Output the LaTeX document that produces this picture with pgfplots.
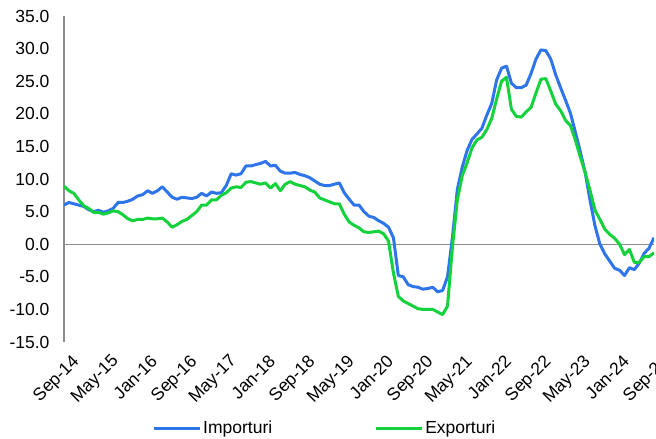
\documentclass[border=0pt]{standalone}
\usepackage{fontspec}
\setmainfont{Liberation Sans}
\usepackage{pgfplots}
\pgfplotsset{compat=1.18}
\definecolor{impblue}{RGB}{46,117,235}
\definecolor{expgreen}{RGB}{20,210,60}
\definecolor{axgray}{RGB}{140,140,140}
\pgfplotstableread{
m imp exp
0 6.0 8.9
1 6.4 8.2
2 6.2 7.8
3 6.0 6.8
4 5.8 5.9
5 5.3 5.5
6 5.0 4.9
7 5.2 4.9
8 4.9 4.6
9 5.1 4.8
10 5.5 5.1
11 6.4 5.0
12 6.4 4.5
13 6.6 3.9
14 6.9 3.6
15 7.4 3.8
16 7.6 3.8
17 8.2 4.0
18 7.8 3.9
19 8.2 3.9
20 8.8 4.0
21 8.0 3.4
22 7.2 2.6
23 6.9 3.0
24 7.2 3.5
25 7.1 3.8
26 7.0 4.4
27 7.2 5.0
28 7.8 6.0
29 7.4 6.0
30 8.0 6.8
31 7.8 6.8
32 7.9 7.5
33 9.0 7.9
34 10.8 8.6
35 10.6 8.8
36 10.8 8.7
37 12.0 9.5
38 12.0 9.6
39 12.2 9.4
40 12.4 9.2
41 12.7 9.4
42 12.0 8.6
43 12.1 9.3
44 11.2 8.2
45 10.9 9.2
46 10.9 9.6
47 11.0 9.2
48 10.7 9.0
49 10.5 8.8
50 10.2 8.3
51 9.7 8.0
52 9.2 7.1
53 9.0 6.8
54 9.0 6.5
55 9.2 6.2
56 9.4 6.2
57 7.9 4.6
58 6.9 3.4
59 6.0 2.9
60 6.0 2.5
61 5.0 1.9
62 4.3 1.8
63 4.1 1.9
64 3.6 2.0
65 3.2 1.6
66 2.6 0.5
67 1.0 -4.4
68 -4.8 -8.0
69 -5.0 -8.7
70 -6.2 -9.1
71 -6.5 -9.5
72 -6.6 -9.9
73 -6.9 -10.0
74 -6.8 -10.0
75 -6.6 -10.0
76 -7.3 -10.4
77 -7.1 -10.8
78 -5.0 -9.5
79 1.0 -0.5
80 8.4 6.8
81 11.8 10.5
82 14.4 12.5
83 16.1 14.8
84 16.9 16.0
85 17.8 16.4
86 19.8 17.6
87 21.6 19.3
88 25.2 22.3
89 27.0 25.0
90 27.3 25.6
91 24.7 20.7
92 24.0 19.6
93 24.0 19.5
94 24.4 20.3
95 26.2 21.0
96 28.4 23.2
97 29.8 25.3
98 29.7 25.4
99 28.4 23.5
100 26.0 21.5
101 24.0 20.5
102 22.1 19.0
103 20.1 18.2
104 17.2 16.0
105 14.2 13.4
106 11.0 11.0
107 6.7 8.2
108 2.8 5.2
109 0.0 3.8
110 -1.5 2.3
111 -2.6 1.5
112 -3.7 0.9
113 -4.0 0.0
114 -4.8 -1.6
115 -3.6 -0.8
116 -3.9 -2.8
117 -2.9 -2.8
118 -1.4 -1.9
119 -0.6 -1.9
120 1.0 -1.3
}\datatable
\begin{document}
\begin{tikzpicture}
\useasboundingbox (-64pt,-97pt) rectangle (592pt,342pt);
\begin{axis}[
  at={(0pt,0pt)}, anchor=south west,
  scale only axis, width=590pt, height=326pt,
  xmin=0, xmax=120, ymin=-15, ymax=35,
  axis y line*=left, axis x line*=bottom,
  x axis line style={draw=none},
  y axis line style={axgray, line width=1.3pt},
  tick style={draw=none},
  ytick={-15,-10,...,35},
  yticklabels={-15.0,-10.0,-5.0,0.0,5.0,10.0,15.0,20.0,25.0,30.0,35.0},
  xtick={0,8,...,120},
  xticklabels={Sep-14,May-15,Jan-16,Sep-16,May-17,Jan-18,Sep-18,May-19,Jan-20,Sep-20,May-21,Jan-22,Sep-22,May-23,Jan-24,Sep-24},
  x tick label style={rotate=45, anchor=north east, font=\fontsize{17.5}{19}\selectfont, inner sep=0pt, xshift=-3pt, yshift=-13pt},
  y tick label style={font=\fontsize{17.5}{19}\selectfont, xshift=-11pt},
  extra y ticks={0}, extra y tick labels={},
  extra y tick style={grid=major, major grid style={axgray, line width=1.3pt}},
  legend style={at={(axis description cs:0.442,-0.264)}, anchor=center, draw=none,
    font=\fontsize{17.5}{19}\selectfont, legend columns=2,
    /tikz/every even column/.append style={column sep=100pt}},
  legend image code/.code={\draw[#1] (0pt,0pt) -- (46pt,0pt);},
]
\addplot[impblue, line width=3pt, line join=round] table[x=m, y=imp] {\datatable};
\addlegendentry{Importuri}
\addplot[expgreen, line width=3pt, line join=round] table[x=m, y=exp] {\datatable};
\addlegendentry{Exporturi}
\end{axis}
\end{tikzpicture}
\end{document}
